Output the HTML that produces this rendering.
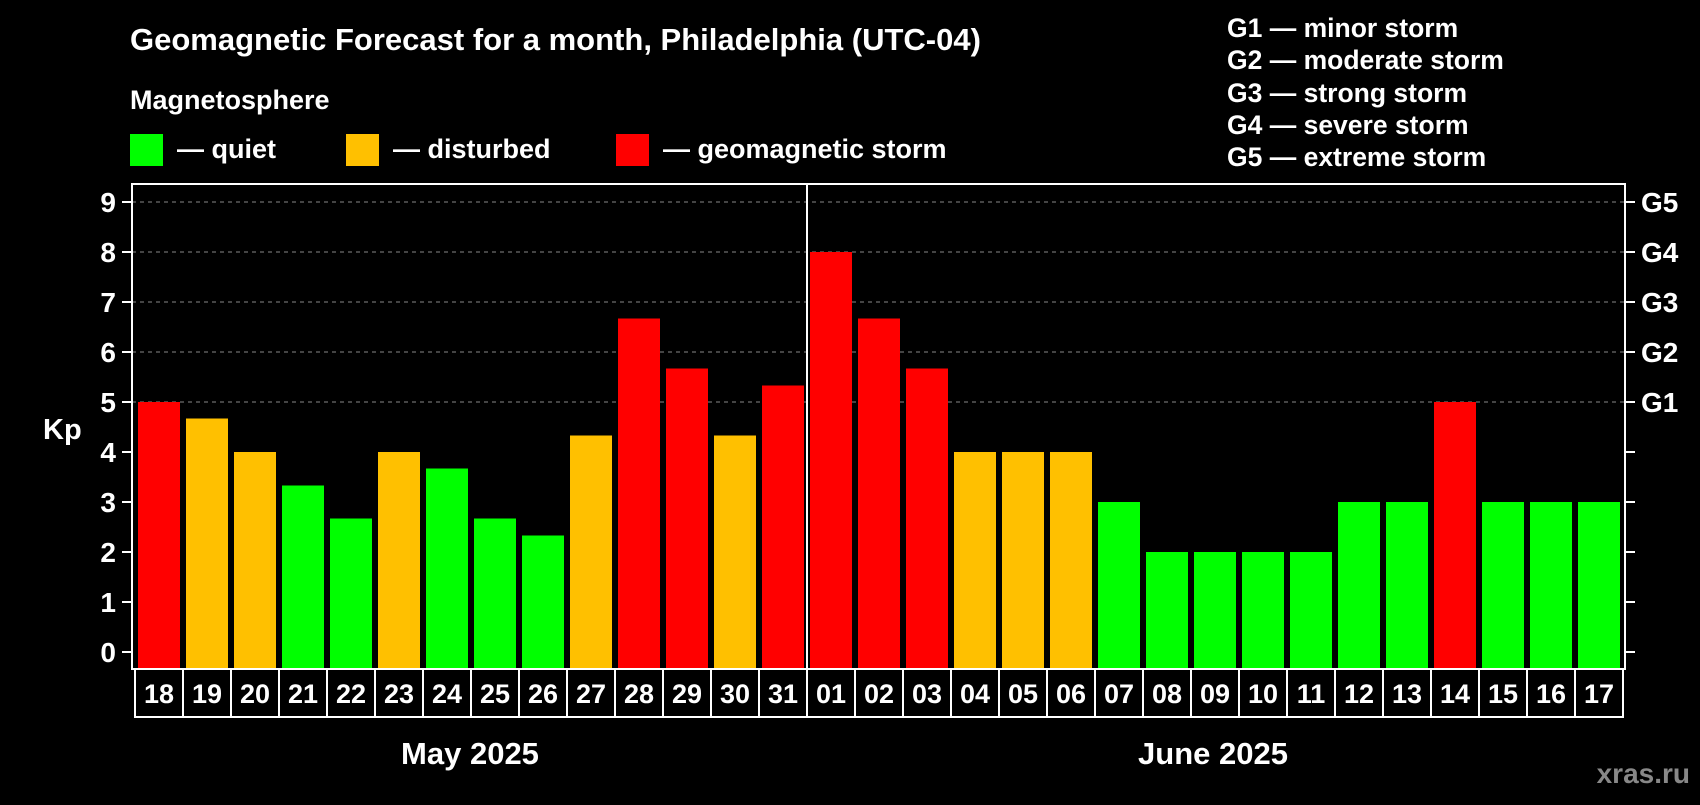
<!DOCTYPE html>
<html><head><meta charset="utf-8"><style>
body{margin:0;background:#000;width:1700px;height:800px;overflow:hidden;font-family:"Liberation Sans",sans-serif;}
svg text{font-family:"Liberation Sans",sans-serif;font-weight:bold;fill:#fff;}
</style></head><body>
<svg id="c" width="1700" height="800">
<text x="130" y="50" font-size="31">Geomagnetic Forecast for a month, Philadelphia (UTC-04)</text>
<text x="130" y="109" font-size="27">Magnetosphere</text>
<rect x="130" y="134" width="33" height="32" fill="#00ff00"/>
<text x="177" y="158" font-size="27">— quiet</text>
<rect x="346" y="134" width="33" height="32" fill="#ffc000"/>
<text x="393" y="158" font-size="27">— disturbed</text>
<rect x="616" y="134" width="33" height="32" fill="#ff0000"/>
<text x="663" y="158" font-size="27">— geomagnetic storm</text>
<g font-size="26.5">
<text x="1227" y="37">G1 — minor storm</text>
<text x="1227" y="69">G2 — moderate storm</text>
<text x="1227" y="102">G3 — strong storm</text>
<text x="1227" y="134">G4 — severe storm</text>
<text x="1227" y="166">G5 — extreme storm</text>
</g>
<text x="43" y="439" font-size="29">Kp</text>
<text x="470" y="764" font-size="31" text-anchor="middle">May 2025</text>
<text x="1213" y="764" font-size="31" text-anchor="middle">June 2025</text>
<text x="1690" y="783" font-size="28" text-anchor="end" style="fill:#888">xras.ru</text>
<g id="plot"></g>
</svg>
<script>
const days=["18","19","20","21","22","23","24","25","26","27","28","29","30","31","01","02","03","04","05","06","07","08","09","10","11","12","13","14","15","16","17"];
const kp=[5,4.67,4,3.33,2.67,4,3.67,2.67,2.33,4.33,6.67,5.67,4.33,5.33,8,6.67,5.67,4,4,4,3,2,2,2,2,3,3,5,3,3,3];
const yTicks=[0,1,2,3,4,5,6,7,8,9];
const gLabels=["G1","G2","G3","G4","G5"];
const NS="http://www.w3.org/2000/svg";
const g=document.getElementById('plot');
const L=132,R=1625,T=184,B=669,BH=48;
const y=v=>652-v*50;
const x0=i=>138+i*48;
function mk(t,a){const e=document.createElementNS(NS,t);for(const k in a)e.setAttribute(k,a[k]);g.appendChild(e);return e;}
yTicks.forEach(v=>{
 if(v>=5){const l=mk('line',{x1:L,x2:R,y1:y(v),y2:y(v),stroke:'#888','stroke-dasharray':'4,4','stroke-width':1});
 
 }
 mk('line',{x1:L-10,x2:L,y1:y(v),y2:y(v),stroke:'#fff','stroke-width':2});
 mk('line',{x1:R,x2:R+10,y1:y(v),y2:y(v),stroke:'#fff','stroke-width':2});
 const t=mk('text',{x:L-16,y:y(v)+10,'font-size':28,'text-anchor':'end'});t.textContent=v;
 
 
 if(v>=5){const s=mk('text',{x:R+16,y:y(v)+10,'font-size':28});s.textContent=gLabels[v-5];
 
 }
});
kp.forEach((v,i)=>{
 const c=v>=5?'#ff0000':v>=4?'#ffc000':'#00ff00';
 const b=mk('rect',{x:x0(i),y:y(v),width:42,height:B-y(v),fill:c});
 
 
 const r=mk('rect',{x:x0(i)-3,y:B,width:48,height:BH,fill:'none',stroke:'#fff','stroke-width':2});
 
 
 const t=mk('text',{x:x0(i)+21,y:B+34,'font-size':27,'text-anchor':'middle'});t.textContent=days[i];
 
 
});
const fr=mk('rect',{x:L,y:T,width:R-L,height:B-T,fill:'none',stroke:'#fff','stroke-width':2});


const dv=mk('line',{x1:x0(14)-3,x2:x0(14)-3,y1:T,y2:B+BH,stroke:'#fff','stroke-width':2});


</script>
</body></html>
